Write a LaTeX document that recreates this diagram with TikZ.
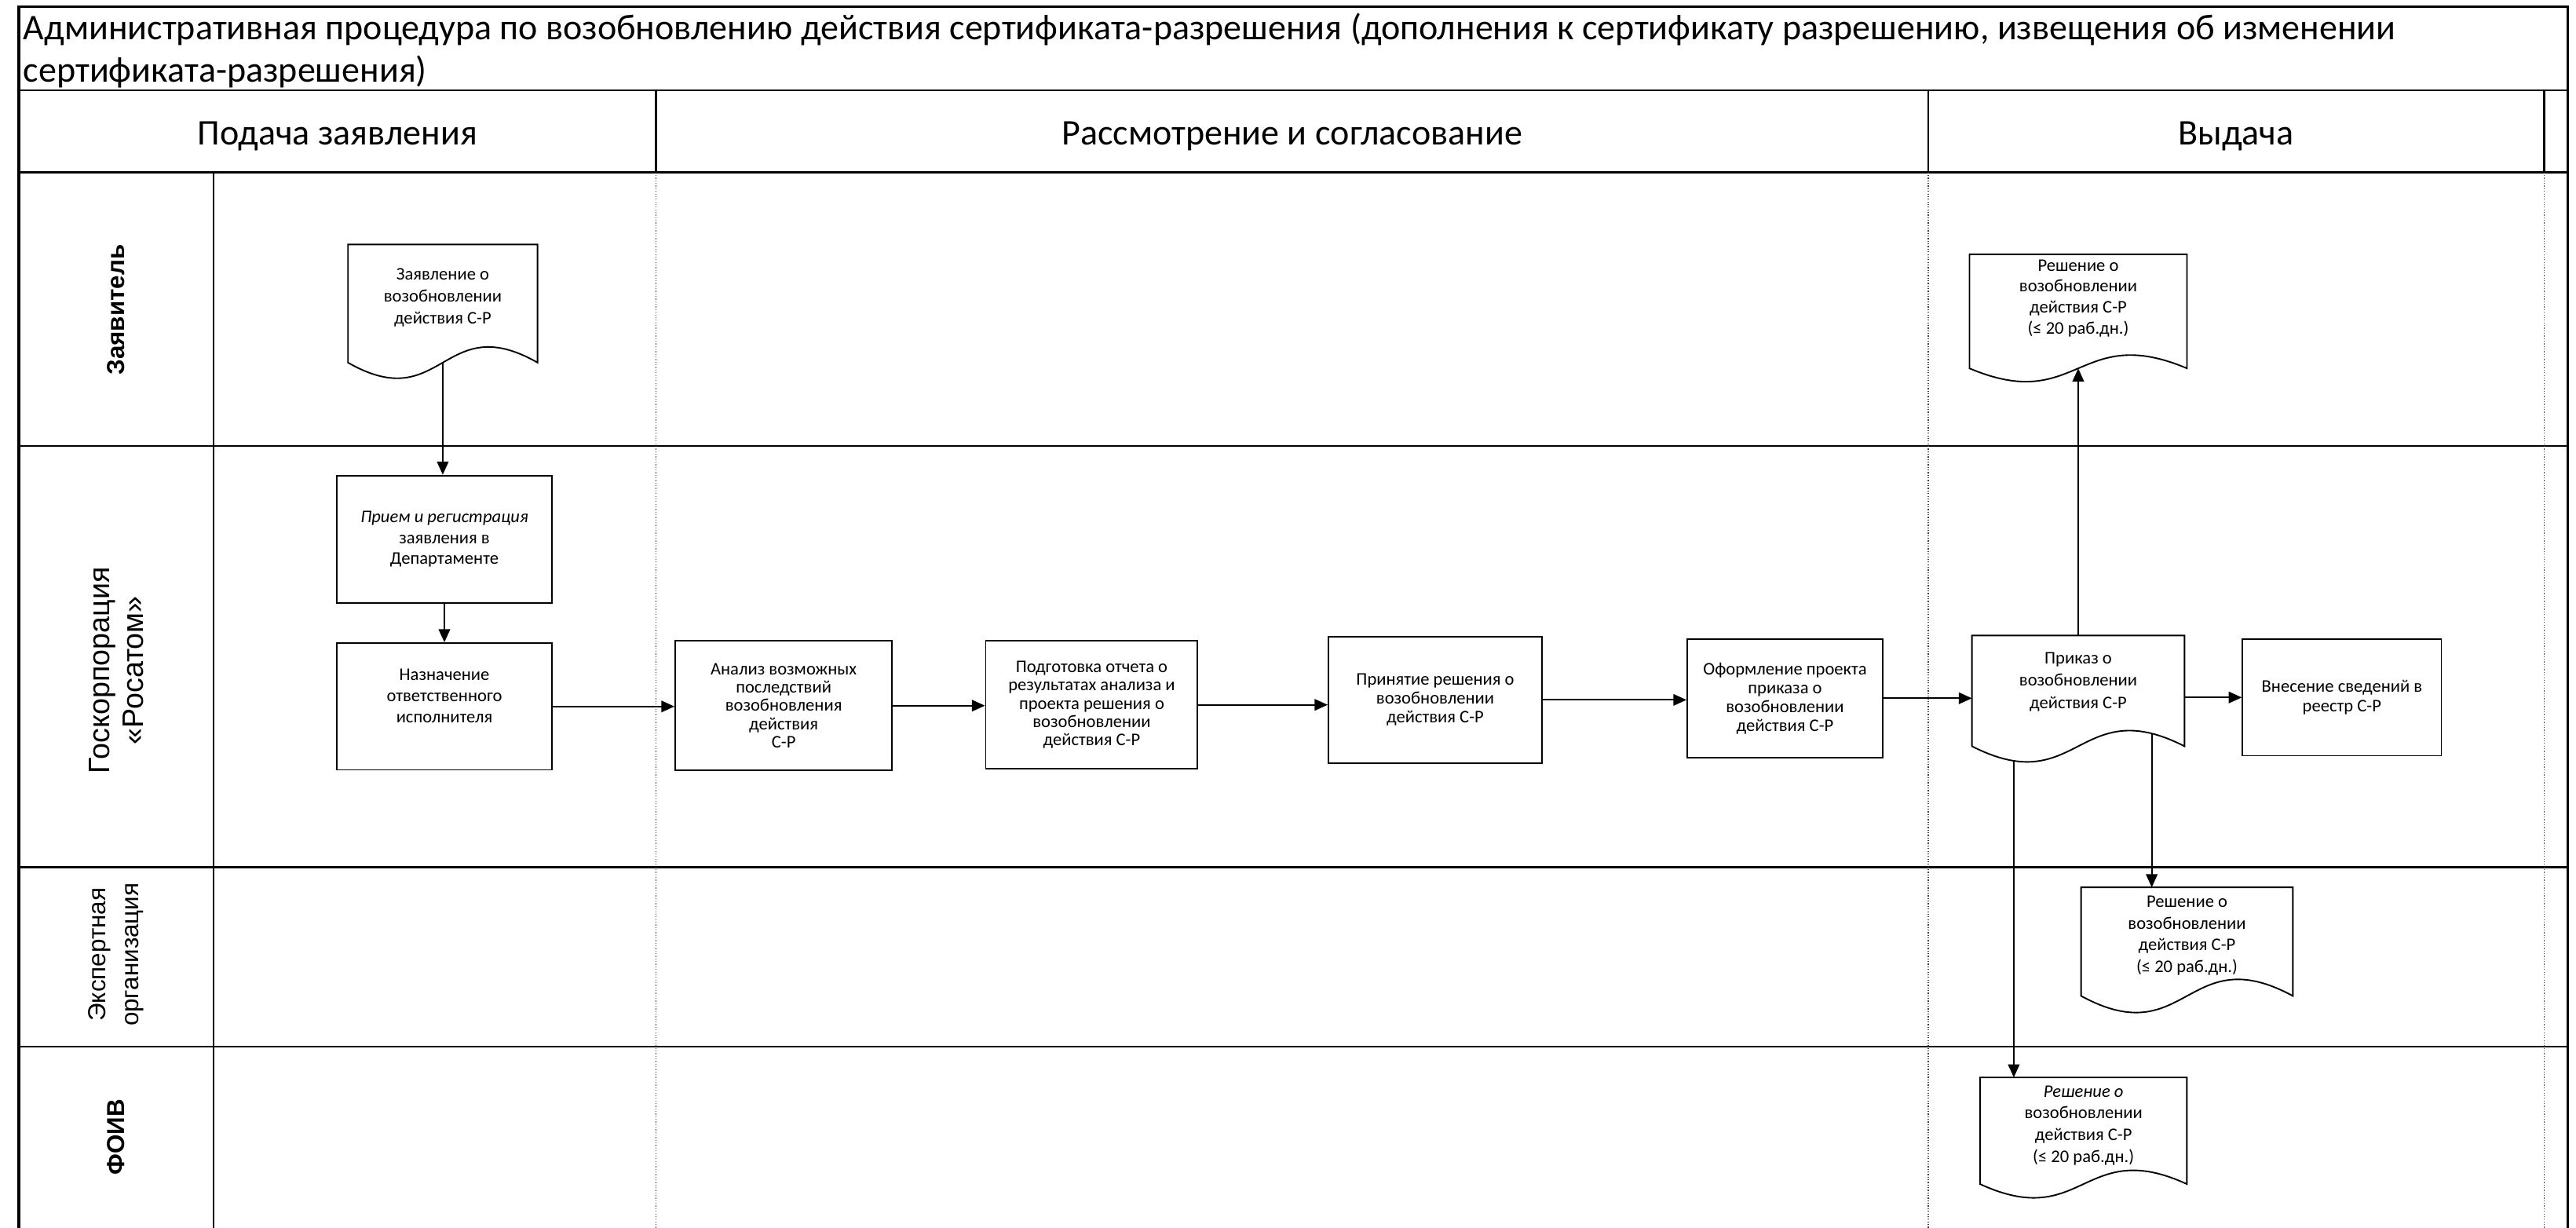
\documentclass[tikz,border=0pt]{standalone}
\usepackage{fontspec}
\setmainfont{Carlito}
\newfontfamily\lanefont{Liberation Sans}
\usetikzlibrary{arrows.meta,calc}
\tikzset{
  outerline/.style={line width=1.6pt},
  laneline/.style={line width=1.3pt},
  dotline/.style={line width=0.6pt, densely dotted, black!75},
  procbox/.style={draw, line width=0.9pt, rectangle, inner sep=0pt, align=center},
  docnode/.style={rectangle, inner sep=0pt, align=center},
  docline/.style={line width=0.9pt},
  arr/.style={line width=0.9pt, -{Triangle[length=8pt,width=7pt]}},
  lanelabel/.style={rotate=90, align=center, inner sep=0pt},
  phasehead/.style={anchor=base, inner sep=0pt, font=\fontsize{22}{26}\selectfont},
  titletext/.style={anchor=base west, inner sep=0pt, font=\fontsize{22}{26}\selectfont},
}
\newcommand{\bfs}[1]{\fontsize{10.8}{#1}\selectfont}
\newcommand{\docoutline}[3]{%
  \draw[docline] (#1.north west) -- ($(#1.south west)+(0,#2)$)
    .. controls ($(#1.south)+(0,#2+#3)$) and ($(#1.south)+(0,#2-#3)$) ..
    coordinate[pos=0.152] (#1L) coordinate[pos=0.5] (#1M) coordinate[pos=0.885] (#1R)
    ($(#1.south east)+(0,#2)$) -- (#1.north east) -- cycle;}
\begin{document}
\begin{tikzpicture}[x=1pt,y=-1pt]
\useasboundingbox (0,0) rectangle (1568,747.4);
% ---- frame and grid
\draw[outerline] (11.5,747.4) -- (11.5,4) -- (1563,4) -- (1563,747.4);
\draw[laneline] (11.5,55) -- (1563,55);
\draw[laneline] (11.5,105) -- (1563,105);
\foreach \yy in {271.5,528,637} \draw[laneline] (11.5,\yy) -- (1563,\yy);
\draw[laneline] (130,105) -- (130,747.4);
\foreach \xx in {399.4,1173.7,1548.7} {
  \draw[laneline] (\xx,55) -- (\xx,105);
  \draw[dotline] (\xx,105) -- (\xx,747.4);
}
% ---- title and headers
\node[titletext] (title1) at (14,24) {Административная процедура по возобновлению действия сертификата-разрешения (дополнения к сертификату разрешению, извещения об изменении};
\node[titletext] (title2) at (14,50) {сертификата-разрешения)};
\node[phasehead] (ph1) at (205.5,88) {Подача заявления};
\node[phasehead] (ph2) at (786.5,88) {Рассмотрение и согласование};
\node[phasehead] (ph3) at (1361,88) {Выдача};
% ---- lane labels
\node[lanelabel, font=\lanefont\bfseries\fontsize{15}{20}\selectfont] (ln1) at (70.7,188.5) {Заявитель};
\node[lanelabel, font=\lanefont\fontsize{18}{20.5}\selectfont] (ln2) at (70.7,408) {Госкорпорация\\«Росатом»};
\node[lanelabel, font=\lanefont\fontsize{15}{20}\selectfont] (ln3) at (70.7,581) {Экспертная\\организация};
\node[lanelabel, font=\lanefont\bfseries\fontsize{15}{20}\selectfont] (ln4) at (70.7,692) {ФОИВ};
% ---- documents
\node[docnode, font=\bfs{13.4}, minimum width=115pt, minimum height=64pt] (doc1) at (269.5,181) {Заявление о\\возобновлении\\действия С-Р};
\docoutline{doc1}{7.5}{33}
\node[docnode, font=\bfs{12.7}, minimum width=132pt, minimum height=53pt] (doc10) at (1265,181.5) {Решение о\\возобновлении\\действия С-Р\\(≤ 20 раб.дн.)};
\docoutline{doc10}{16}{28}
\node[docnode, font=\bfs{13.5}, minimum width=129pt, minimum height=56pt] (doc8) at (1265,415) {Приказ о\\возобновлении\\действия С-Р};
\docoutline{doc8}{11}{33}
\node[docnode, font=\bfs{13.3}, minimum width=128.5pt, minimum height=58.4pt] (doc11) at (1331.2,569.5) {Решение о\\возобновлении\\действия С-Р\\(≤ 20 раб.дн.)};
\docoutline{doc11}{7.3}{35}
\node[docnode, font=\bfs{13.3}, minimum width=125.5pt, minimum height=58pt] (doc12) at (1268.2,685) {\textit{Решение о}\\возобновлении\\действия С-Р\\(≤ 20 раб.дн.)};
\docoutline{doc12}{6.5}{29}
% ---- process boxes
\node[procbox, font=\bfs{12.8}, minimum width=131pt, minimum height=77.6pt] (box2) at (270.5,328.2) {\textit{Прием и регистрация}\\заявления в\\Департаменте};
\node[procbox, font=\bfs{13}, minimum width=131pt, minimum height=77.2pt] (box3) at (270.5,430) {Назначение\\ответственного\\исполнителя\\\mbox{}};
\node[procbox, font=\bfs{11.2}, minimum width=132pt, minimum height=79pt] (box4) at (477,429.5) {Анализ возможных\\последствий\\возобновления\\действия\\С-Р};
\node[procbox, font=\bfs{11.2}, minimum width=129pt, minimum height=78pt] (box5) at (664.5,429) {Подготовка отчета о\\результатах анализа и\\проекта решения о\\возобновлении\\действия С-Р};
\node[procbox, font=\bfs{11.5}, minimum width=130pt, minimum height=77pt] (box6) at (873.6,426) {Принятие решения о\\возобновлении\\действия С-Р};
\node[procbox, font=\bfs{11.5}, minimum width=119pt, minimum height=72pt] (box7) at (1086.5,425) {Оформление проекта\\приказа о\\возобновлении\\действия С-Р};
\node[procbox, font=\bfs{12}, minimum width=121pt, minimum height=71pt] (box9) at (1425.5,424.5) {Внесение сведений в\\реестр С-Р};
% ---- connectors
\draw[arr] (doc1M) -- (doc1M |- box2.north);
\draw[arr] (box2.south) -- (box3.north);
\draw[arr] (box3.east) -- (box3.east -| box4.west);
\draw[arr] (box4.east) -- (box4.east -| box5.west);
\draw[arr] (box5.east) -- (box5.east -| box6.west);
\draw[arr] (box6.east) -- (box6.east -| box7.west);
\draw[arr] (box7.east) -- (box7.east -| doc8.west);
\draw[arr] (box9.west -| doc8.east) -- (box9.west);
\draw[arr] (doc8.north) -- (doc8.north |- doc10M);
\draw[arr] (doc8R) -- (doc8R |- doc11.north);
\draw[arr] (doc8L) -- (doc8L |- doc12.north);
\end{tikzpicture}
\end{document}
